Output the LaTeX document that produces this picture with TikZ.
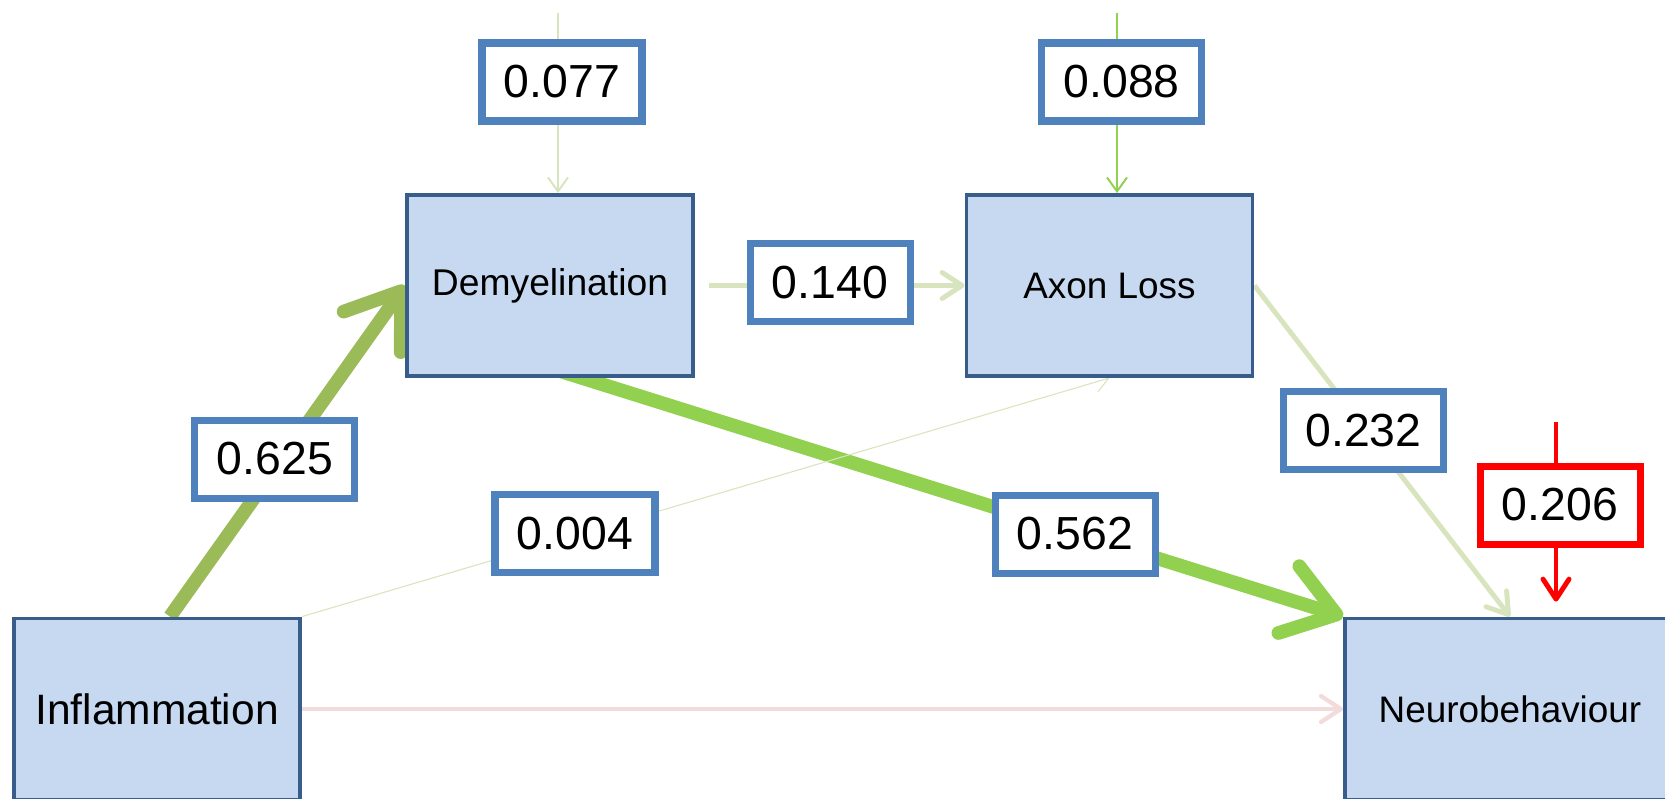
\documentclass[tikz,border=0pt]{standalone}
\usepackage{fontspec}
\setmainfont{Liberation Sans}
\usepackage{tikz}
\usetikzlibrary{arrows.meta,backgrounds}
\definecolor{fBox}{RGB}{198,217,241}
\definecolor{dBox}{RGB}{56,93,138}
\definecolor{dLbl}{RGB}{79,129,189}
\definecolor{gOlive}{RGB}{155,187,89}
\definecolor{gLime}{RGB}{146,208,80}
\definecolor{gPale}{RGB}{215,228,189}
\definecolor{fPink}{RGB}{242,220,219}
\definecolor{dRed}{RGB}{255,0,0}

\begin{document}
\begin{tikzpicture}[x=0.1mm,y=0.1mm,font=\fontsize{10.5}{12.5}\selectfont,
  bx/.style={draw=dBox,fill=fBox,line width=1.1pt,minimum width=28.6mm,minimum height=18.1mm,inner sep=0pt},
  lbl/.style={draw=dLbl,fill=white,line width=2pt,minimum width=16mm,minimum height=7.8mm,inner sep=0pt,font=\fontsize{13.2}{15}\selectfont},
  thk/.style={-{Straight Barb[round,length=5mm,width=7mm]},line width=3.9pt},
  mid/.style={-{Straight Barb[round,length=2mm,width=2.6mm]},line width=1.4pt},
  thn/.style={-{Straight Barb[length=1.4mm,width=2mm]},line width=0.55pt}]
\useasboundingbox (0,0) rectangle (1665,-798);
\node[bx,font=\fontsize{10.6}{12.5}\selectfont] (dem) at (550,-285.5) {Demyelination};
\node[bx] (axl) at (1109.5,-285.5) {Axon Loss};
\node[bx,font=\fontsize{12.1}{14.5}\selectfont] (inf) at (157,-709) {Inflammation};
\node[bx,minimum width=33mm] (neu) at (1510,-709) {Neurobehaviour};
\node[lbl] (l077) at (562,-82) {0.077};
\node[lbl] (l088) at (1121.7,-82) {0.088};
\node[lbl] (l140) at (830,-282.5) {0.140};
\node[lbl] (l625) at (274.8,-459) {0.625};
\node[lbl] (l004) at (575,-533.5) {0.004};
\node[lbl] (l562) at (1075,-534) {0.562};
\node[lbl] (l232) at (1363.5,-430.5) {0.232};
\node[lbl,draw=dRed] (l206) at (1560,-505) {0.206};
\coordinate (s077) at (558,-13);
\coordinate (s088) at (1117,-13);
\coordinate (s206) at (1556,-422);
\begin{scope}[on background layer]
 \draw[thn,gPale] (s077) -- (s077 |- dem.north);
 \draw[thn,gLime] (s088) -- (s088 |- axl.north);
 \draw[thk,gOlive] ([xshift=1.3mm]inf.north) -- (dem.west);
 \draw[mid,gPale] ([xshift=1.4mm]dem.east) -- (axl.west);
 \draw[thk,gLime] ([yshift=1mm]dem.south) -- (neu.north west);
 \draw[thn,gPale,line width=0.3pt] (inf.north east) -- (axl.south);
 \draw[mid,gPale] (axl.east) -- (neu.north);
 \draw[mid,fPink,line width=1.2pt] (inf.east) -- (neu.west);
 \draw[mid,dRed,shorten >=1.5mm] (s206) -- (s206 |- neu.north);
\end{scope}
\end{tikzpicture}
\end{document}
